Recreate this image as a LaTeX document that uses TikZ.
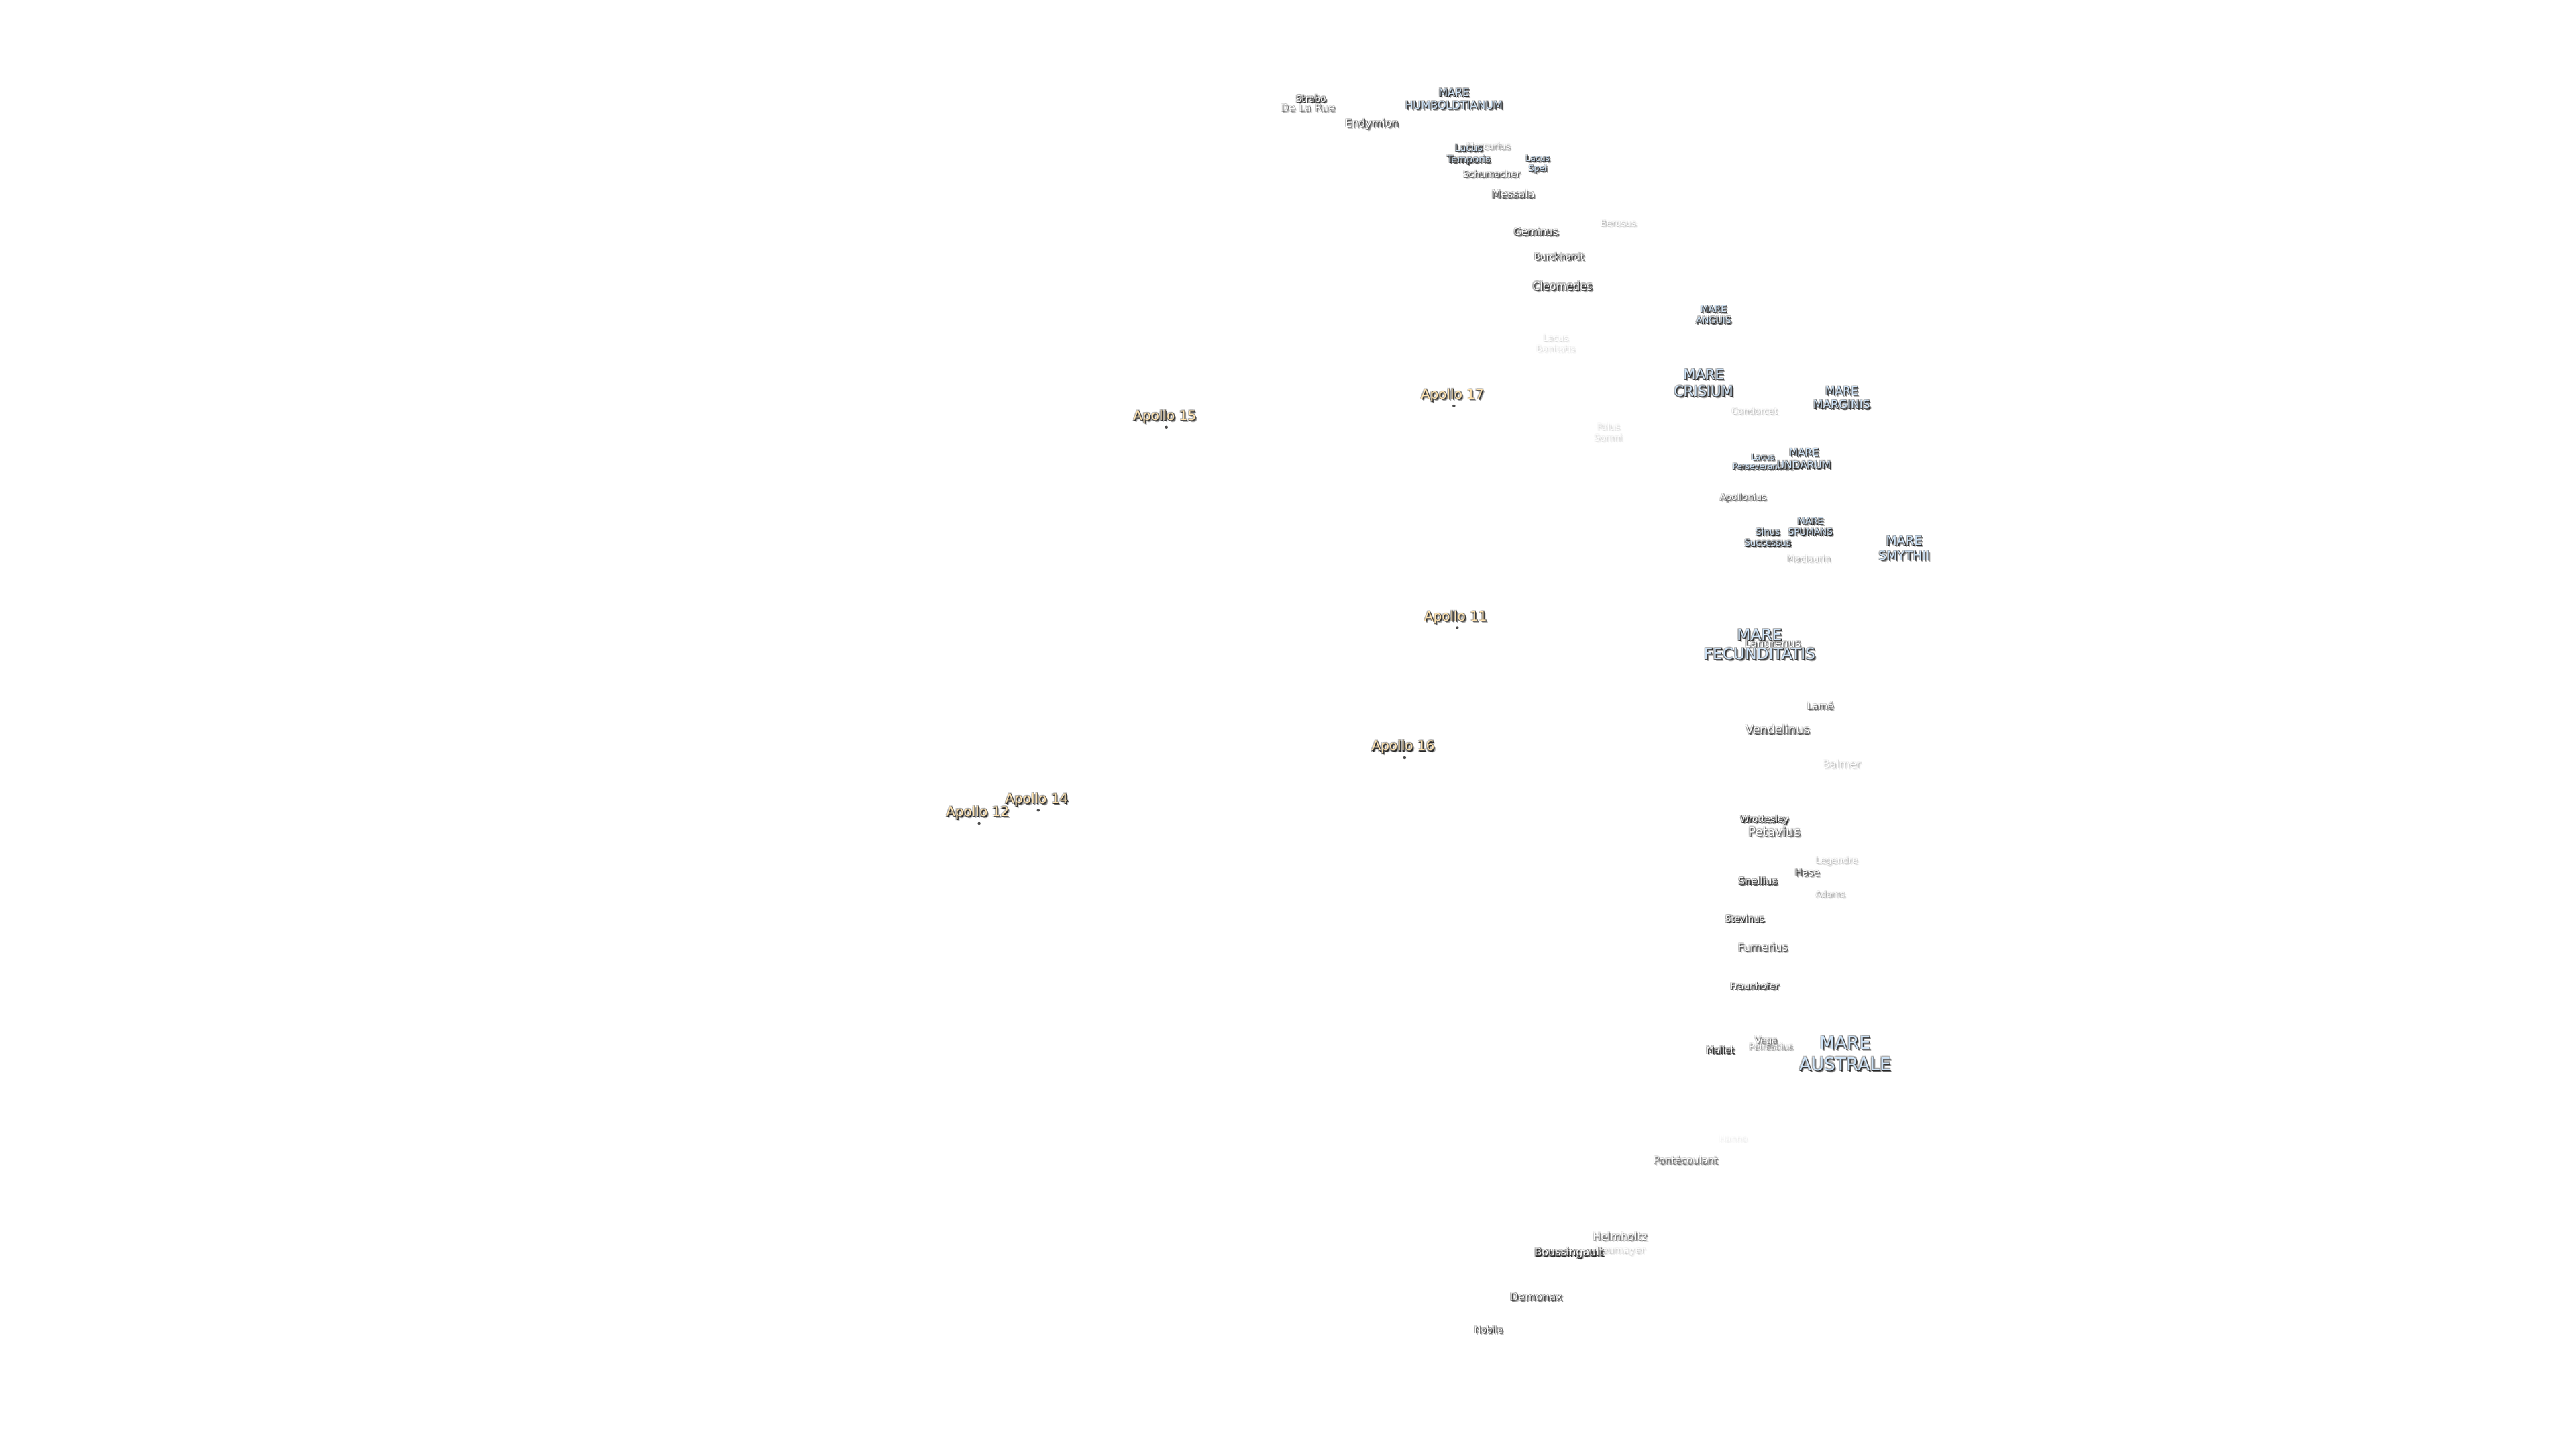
\documentclass[tikz,border=0pt]{standalone}
\usepackage{fontspec}
\setmainfont{DejaVu Sans}
\definecolor{marefill}{HTML}{CFE4F8}
\definecolor{apollofill}{HTML}{FFE3B0}
\newcommand{\moonlabel}[7]{
    \pgfmathsetmacro{\fs}{#4*0.2845}
    \pgfmathsetmacro{\ls}{\fs*1.2}
    \foreach \dx/\dy/\ink [count=\i] in {1.2/1.2/30, -0.45/-0.45/25, 0.5/-0.45/30, -0.45/0.5/35, 0.85/0.85/60, 0.5/0.5/85, 0.3/0/70, 0/0.3/70}
        \node[moon text, text=black!\ink!white, opacity=#5/100, font=\fontsize{\fs}{\ls}\selectfont] (#1\i) at (#2+\dx,#3+\dy) {#7};
    \node[moon text, text=#6, font=\fontsize{\fs}{\ls}\selectfont] (#1) at (#2,#3) {#7};
}

\begin{document}
\begin{tikzpicture}[x=0.0244898cm, y=-0.0244898cm,
    moon text/.style={inner sep=0pt, align=center}]
    \useasboundingbox (0,0) rectangle (1568,882);

    \foreach \nm/\xx/\yy/\sz/\op/\txt in {
        hanno/1055/693/13/3/Hanno,
        bonitatis/947/209/13.2/7/{Lacus\\Bonitatis},
        somni/979/263/13.5/8/{Palus\\Somni},
        neumayer/986/761.5/14.5/10/Neumayer,
        balmer/1121/465/16/12/Balmer,
        berosus/985/136/13.4/15/Berosus,
        condorcet/1068/250/13.4/15/Condorcet,
        legendre/1118/524/13.4/15/Legendre,
        maclaurin/1101/340/13.3/20/Maclaurin,
        adams/1114/544/13.1/20/Adams,
        mercurius/906/89/13.4/25/Mercurius,
        peirescius/1078/637/13.3/25/Peirescius,
        delarue/796/65.5/16/40/De La Rue,
        vega/1075/633.5/13.7/40/Vega,
        pontecoulant/1026/706/14.7/40/Pontécoulant,
        helmholtz/986/752.5/16/40/Helmholtz,
        lame/1108/429.5/14.5/45/Lamé,
        apollonius/1061/303/13.4/50/Apollonius,
        langrenus/1079/392/16/50/Langrenus,
        schumacher/908/106/13.6/55/Schumacher,
        petavius/1080/506/18.4/55/Petavius,
        furnerius/1073/576.5/16/55/Furnerius,
        messala/921/118/16/60/Messala,
        vendelinus/1082/444/17.5/60/Vendelinus,
        hase/1100/531/14.7/60/Hase,
        endymion/835/75.5/16/70/Endymion,
        demonax/935/789/16.3/70/Demonax,
        fraunhofer/1068/600/13.4/80/Fraunhofer,
        geminus/935/141/15/85/Geminus,
        burckhardt/949/156/13.5/85/Burckhardt,
        nobile/906/809/13.4/85/Nobile,
        cleomedes/951/174/16/90/Cleomedes,
        strabo/798/60/13.6/100/Strabo,
        wrottesley/1074/499/13.5/100/Wrottesley,
        snellius/1070/536/15/100/Snellius,
        stevinus/1062/559/13.5/100/Stevinus,
        mallet/1047/639/13.7/100/Mallet,
        boussingault/955/762.5/16/100/Boussingault}
        \moonlabel{\nm}{\xx}{\yy}{\sz}{\op}{white}{\txt};

    \foreach \nm/\xx/\yy/\sz/\txt in {
        perseverantiae/1073/281/12/{Lacus\\Perseverantiae},
        undarum/1098/279/15.4/{MARE\\UNDARUM},
        humboldtianum/885/60/16/{MARE\\HUMBOLDTIANUM},
        temporis/894/94/14.4/{Lacus\\Temporis},
        spei/936/100/12.4/{Lacus\\Spei},
        anguis/1043/191.5/13.6/{MARE\\ANGUIS},
        crisium/1037/233/21/{MARE\\CRISIUM},
        marginis/1121/242/17/{MARE\\MARGINIS},
        spumans/1102/320.5/13.5/{MARE\\SPUMANS},
        successus/1076/327/13.4/{Sinus\\Successus},
        smythii/1159/333.5/18.7/{MARE\\SMYTHII},
        fecunditatis/1071/392/23.3/{MARE\\FECUNDITATIS},
        australe/1123/641/26.4/{MARE\\AUSTRALE}}
        \moonlabel{\nm}{\xx}{\yy}{\sz}{100}{marefill}{\txt};

    \foreach \nm/\xx/\yy/\txt in {
        apolloXV/709/253.6/Apollo 15,
        apolloXVII/884/240.6/Apollo 17,
        apolloXI/886/375.6/Apollo 11,
        apolloXVI/854/454.6/Apollo 16,
        apolloXIV/631/486.6/Apollo 14,
        apolloXII/595/494.6/Apollo 12} {
        \fill[black!70] (\xx+1,\yy+6.4) circle (0.9);
        \moonlabel{\nm}{\xx}{\yy}{20}{100}{apollofill}{\txt};
    }
\end{tikzpicture}
\end{document}
